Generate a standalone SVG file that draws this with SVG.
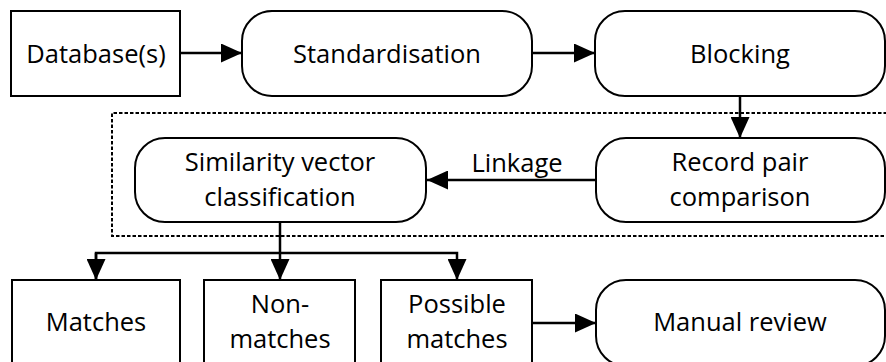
<svg xmlns="http://www.w3.org/2000/svg" width="886" height="362" viewBox="0 0 886 362">
<style>
.box{fill:#fff;stroke:#000;stroke-width:2}
.t{font-family:"Open Sans","Liberation Sans",sans-serif;font-size:25.5px;fill:#000;text-anchor:middle}
.c{fill:none;stroke:#000;stroke-width:2.5}
.d{fill:none;stroke:#000;stroke-width:2;stroke-dasharray:3.5 2}
</style>
<defs>
<marker id="ah" markerUnits="userSpaceOnUse" markerWidth="21" markerHeight="19" refX="21" refY="9.5" orient="auto">
<path d="M0,0 L21,9.5 L0,19 Z" fill="#000"/>
</marker>
</defs>
<path class="d" d="M887,113 H112 V236 H887"/>
<g id="database"><rect class="box" x="11" y="11" width="169" height="85"/><text class="t" x="96" y="63">Database(s)</text></g>
<g id="standardisation"><rect class="box" x="242" y="11" width="290" height="85" rx="30"/><text class="t" x="387" y="63">Standardisation</text></g>
<g id="blocking"><rect class="box" x="595" y="11" width="290" height="85" rx="30"/><text class="t" x="740" y="63">Blocking</text></g>
<g id="recordpair"><rect class="box" x="596" y="138" width="289" height="84" rx="30"/><text class="t" x="740" y="171">Record pair</text><text class="t" x="740" y="206">comparison</text></g>
<g id="similarity"><rect class="box" x="135" y="138" width="291" height="84" rx="30"/><text class="t" x="280" y="171">Similarity vector</text><text class="t" x="280" y="206">classification</text></g>
<g id="matches"><rect class="box" x="12" y="280" width="168" height="95"/><text class="t" x="96" y="331">Matches</text></g>
<g id="nonmatches"><rect class="box" x="204" y="280" width="151" height="95"/><text class="t" x="280" y="313">Non-</text><text class="t" x="280" y="348">matches</text></g>
<g id="possible"><rect class="box" x="381" y="280" width="151" height="95"/><text class="t" x="457" y="313">Possible</text><text class="t" x="457" y="348">matches</text></g>
<g id="manual"><rect class="box" x="596" y="280" width="289" height="86" rx="30"/><text class="t" x="740" y="331">Manual review</text></g>
<g id="connectors">
<line class="c" x1="180" y1="53" x2="242" y2="53" marker-end="url(#ah)"/>
<line class="c" x1="532" y1="53" x2="595" y2="53" marker-end="url(#ah)"/>
<line class="c" x1="740" y1="96" x2="740" y2="138" marker-end="url(#ah)"/>
<line class="c" x1="596" y1="180" x2="427" y2="180" marker-end="url(#ah)"/>
<text class="t" x="517" y="172">Linkage</text>
<line class="c" x1="280" y1="222" x2="280" y2="280" marker-end="url(#ah)"/>
<path class="c" d="M96,280 V253 H457 V280" marker-end="url(#ah)"/>
<path class="c" d="M96,253 V280" marker-end="url(#ah)"/>
<line class="c" x1="532" y1="323" x2="596" y2="323" marker-end="url(#ah)"/>
</g>
</svg>
